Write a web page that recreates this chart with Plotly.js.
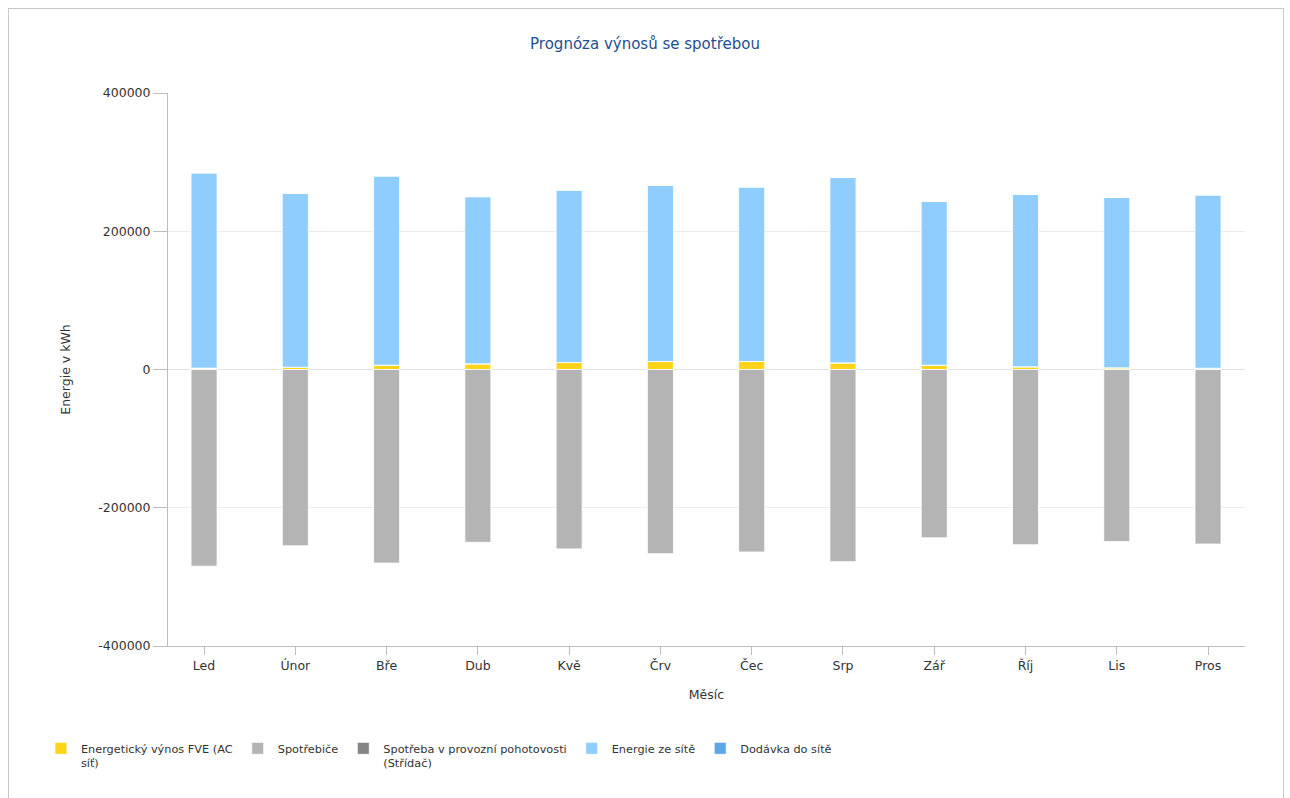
<!DOCTYPE html>
<html>
<head>
<meta charset="utf-8">
<script src="https://cdn.plot.ly/plotly-3.0.1.min.js"></script>
<style>
html,body{margin:0;padding:0;background:#fff;}
#chart{position:absolute;left:0;top:0;width:1290px;height:798px;}
#frame{position:absolute;left:8px;top:8px;width:1274px;height:800px;border:1px solid #c8c8c8;pointer-events:none;}
</style>
</head>
<body>
<div id="chart"></div>
<div id="frame"></div>
<script>
const months = ["Led","Únor","Bře","Dub","Kvě","Črv","Čec","Srp","Zář","Říj","Lis","Pros"];
const pvYield = [2000, 3300, 6300, 8200, 10100, 11600, 11600, 9600, 6300, 3900, 2400, 1900];
const gridEnergy = [282500, 251700, 273700, 241800, 249400, 254900, 252400, 268400, 237200, 249600, 246600, 250600];
const appliances = [-284500, -255000, -280000, -250000, -259500, -266500, -264000, -278000, -243500, -253500, -249000, -252500];
const standby = [0, 0, 0, 0, 0, 0, 0, 0, 0, 0, 0, 0];
const feedIn = [0, 0, 0, 0, 0, 0, 0, 0, 0, 0, 0, 0];
const yTicks = [-400000, -200000, 0, 200000, 400000];

const font = "DejaVu Sans, Verdana, sans-serif";
const bw = 0.285;
const line = {color: "rgba(255,255,255,0.8)", width: 1};
const traces = [
  {type:"bar", name:"Energetický výnos FVE (AC<br>síť)", x:months, y:pvYield, width:bw, marker:{color:"#ffd31a", line:line}},
  {type:"bar", name:"Spotřebiče", x:months, y:appliances, width:bw, marker:{color:"#b4b4b4", line:line}},
  {type:"bar", name:"Spotřeba v provozní pohotovosti<br>(Střídač)", x:months, y:standby, width:bw, marker:{color:"#858585", line:line}},
  {type:"bar", name:"Energie ze sítě", x:months, y:gridEnergy, width:bw, marker:{color:"#8ecdfd", line:line}},
  {type:"bar", name:"Dodávka do sítě", x:months, y:feedIn, width:bw, marker:{color:"#5ea4e8", line:line}}
];

const layout = {
  width:1290, height:798,
  paper_bgcolor:"rgba(0,0,0,0)", plot_bgcolor:"#fff",
  margin:{l:168, r:45, t:93, b:152},
  barmode:"relative",
  font:{family:font, size:12, color:"#333"},
  title:{text:"Prognóza výnosů se spotřebou", font:{family:font, size:15, color:"#1f4f8f"}, x:0.5, xref:"container", xanchor:"center", y:0.945, yref:"container", yanchor:"middle"},
  xaxis:{
    title:{text:"Měsíc", font:{size:12.5, color:"#333"}, standoff:18},
    range:[-0.395, 11.405],
    showline:true, linecolor:"#bdbdbd", linewidth:1,
    ticks:"outside", ticklen:8, tickcolor:"#bdbdbd",
    showgrid:false, zeroline:false,
    tickfont:{size:12.5, color:"#333"}
  },
  yaxis:{
    title:{text:"Energie v kWh", font:{size:12.5, color:"#333"}, standoff:24},
    range:[-400000, 400000], tickvals:yTicks, ticktext:yTicks.map(v=>String(v)),
    showline:true, linecolor:"#bdbdbd", linewidth:1,
    ticks:"outside", ticklen:14, tickcolor:"#bdbdbd",
    showgrid:true, gridcolor:"#ececec", gridwidth:1,
    zeroline:true, zerolinecolor:"#e3e3e3", zerolinewidth:1,
    tickfont:{size:12.5, color:"#333"}
  },
  legend:{orientation:"h", x:-0.118, xanchor:"left", y:-0.16, yanchor:"top",
          font:{size:11.3, color:"#333"}, traceorder:"normal", itemwidth:30, valign:"top"},
  showlegend:true
};

Plotly.newPlot("chart", traces, layout, {displayModeBar:false, staticPlot:true});
</script>
</body>
</html>
